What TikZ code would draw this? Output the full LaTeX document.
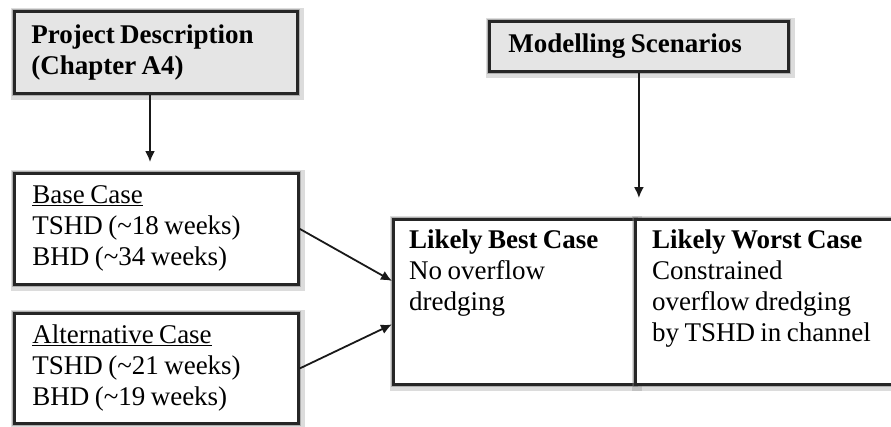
\documentclass[tikz,border=0pt]{standalone}
\usepackage{fontspec}
\setmainfont{Liberation Serif}
\usetikzlibrary{arrows.meta,positioning}

% narrow, rigid inter-word spaces
\newcommand{\tightwords}{\spaceskip=0.2em plus 0pt minus 0pt\relax}

\tikzset{
  halo/.style={preaction={draw=black!50, line width=10pt, opacity=0.28, transform canvas={shift={(1.5pt,-1.5pt)}}},
               preaction={draw=black!60, line width=5.5pt, opacity=0.38}},
  box/.style={draw=black!85, line width=2.8pt, rectangle, halo, inner ysep=0pt,
              font=\fontsize{27}{31}\selectfont, align=flush left,
              execute at begin node=\tightwords},
  headbox/.style={box, fill=black!10, font=\fontsize{27}{31}\selectfont\bfseries},
  cell/.style={draw=black!85, line width=2.8pt, rectangle, halo, fill=white, inner sep=0pt},
  celltext/.style={anchor=north west, inner sep=0pt, align=left,
                   font=\fontsize{27}{31}\selectfont, execute at begin node=\tightwords},
  link/.style={draw=black!90, line width=1.8pt, -{Latex[length=11pt,width=10pt]}}
}

\begin{document}
\begin{tikzpicture}[x=1pt,y=-1pt]
  \useasboundingbox (0,0) rectangle (891,426);
  \clip (0,0) rectangle (891,426);

  % source boxes
  \node[headbox, text width=249pt, inner xsep=17pt, minimum height=82pt, anchor=north west]
    (proj) at (13,10) {Project Description\\(Chapter A4)};
  \node[headbox, text width=261pt, inner xsep=19pt, minimum height=50pt, anchor=north west]
    (scen) at (488,20) {Modelling Scenarios};

  % dredging cases
  \node[box, fill=white, text width=248pt, inner xsep=18pt, minimum height=111pt, anchor=north west]
    (base) at (13,172) {\underline{Base Case}\\TSHD (\char`\~18 weeks)\\BHD (\char`\~34 weeks)};
  \node[box, fill=white, text width=248pt, inner xsep=18pt, minimum height=110pt, anchor=north west]
    (alt) at (13,312) {\underline{Alternative Case}\\TSHD (\char`\~21 weeks)\\BHD (\char`\~19 weeks)};

  % scenario table
  \node[cell, minimum width=242pt, minimum height=165pt, anchor=north west] (best) at (392,218) {};
  \node[cell, minimum width=266pt, minimum height=165pt, anchor=north west] (worst) at (634,218) {};
  \node[celltext] (besttxt) at ([xshift=17pt,yshift=-12pt]best.north west)
    {\textbf{Likely Best Case}\\No overflow\\dredging};
  \node[celltext] (worsttxt) at ([xshift=18pt,yshift=-12pt]worst.north west)
    {\textbf{Likely Worst Case}\\Constrained\\overflow dredging\\by TSHD in channel};

  % connectors
  \draw[link, shorten >=10pt] (proj.south -| 150,0) -- (base.north -| 150,0);
  \draw[link, shorten >=20pt] (scen.south) -- (scen.south |- best.north);
  \draw[link] (base.east) -- ([yshift=-52pt]best.west |- base.east);
  \draw[link] (alt.east) -- ([yshift=44pt]best.west |- alt.east);
\end{tikzpicture}
\end{document}
